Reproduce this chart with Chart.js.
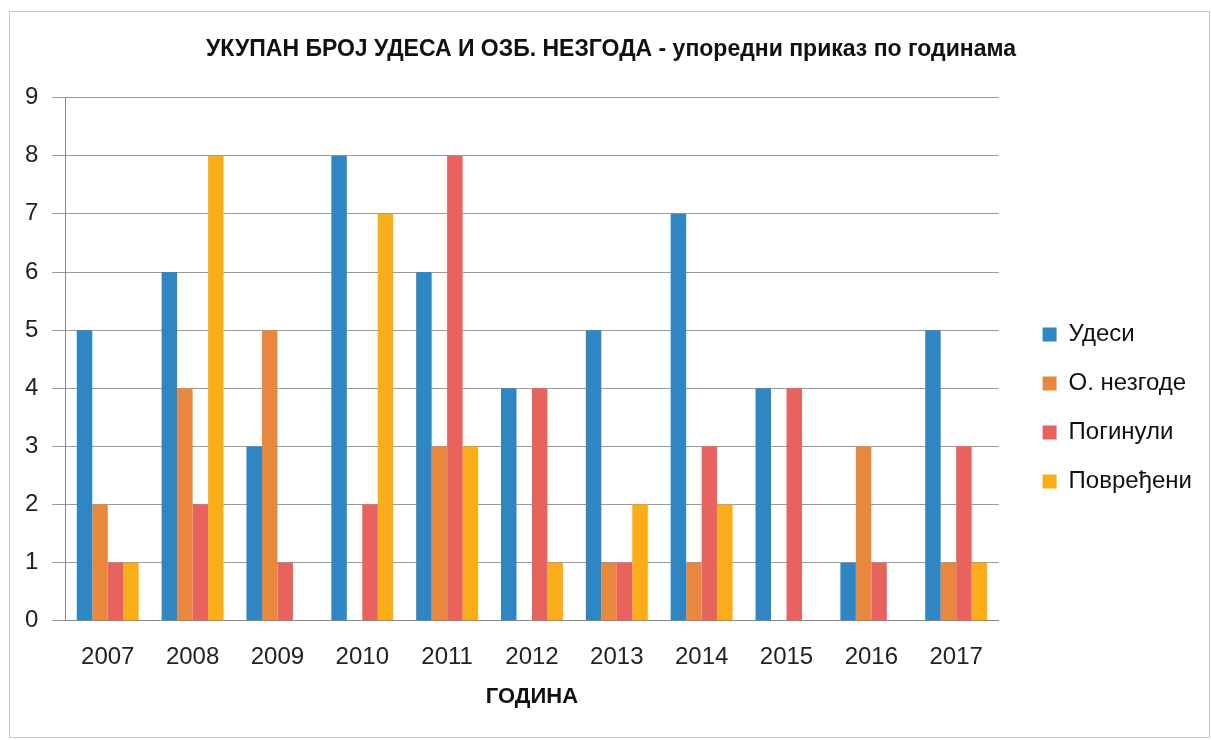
<!DOCTYPE html>
<html>
<head>
<meta charset="utf-8">
<script src="https://cdn.jsdelivr.net/npm/chart.js@4"></script>
<style>
  html, body { margin: 0; padding: 0; background: #fff; }
  #wrap { width: 1211px; height: 740px; }
</style>
</head>
<body>
<div id="wrap"><canvas id="myChart" width="1211" height="740"></canvas></div>
<script>
// data
var years = ["2007", "2008", "2009", "2010", "2011", "2012", "2013", "2014", "2015", "2016", "2017"];
var udesi      = [5, 6, 3, 8, 6, 4, 5, 7, 4, 1, 5];
var nezgode    = [2, 4, 5, 0, 3, 0, 1, 1, 0, 3, 1];
var poginuli   = [1, 2, 1, 2, 8, 4, 1, 3, 4, 1, 3];
var povredjeni = [1, 8, 0, 7, 3, 1, 2, 2, 0, 0, 1];
var yTicks = [0, 1, 2, 3, 4, 5, 6, 7, 8, 9];

var font = "'Liberation Sans', Arial, sans-serif";
Chart.defaults.font.family = font;
Chart.defaults.color = "#222";

// leave a gap between plot and legend, and drop the legend a bit
var LEGEND_EXTRA = 28;
var LEGEND_SHIFT = 19;
var LEGEND_DROP = 38;
var legendGap = {
  id: "legendGap",
  afterInit: function (chart) {
    var lg = chart.legend;
    var fit = lg.fit.bind(lg);
    lg.fit = function () { fit(); this.width += LEGEND_EXTRA; };
  },
  afterLayout: function (chart) {
    var lg = chart.legend;
    lg.left += LEGEND_SHIFT;
    lg.right += LEGEND_SHIFT;
    lg.top += LEGEND_DROP;
    lg.bottom += LEGEND_DROP;
  }
};

// thin frame round the chart
var frame = {
  id: "frame",
  beforeDraw: function (chart) {
    var c = chart.ctx;
    c.save();
    c.strokeStyle = "#c8c8c8";
    c.lineWidth = 1;
    c.strokeRect(9.5, 11.5, 1200, 726);
    c.restore();
  }
};

var ctx = document.getElementById("myChart");

var data = {
  labels: years,
  datasets: [
    { label: "Удеси", data: udesi, backgroundColor: "#2f86c3" },
    { label: "О. незгоде", data: nezgode, backgroundColor: "#e8873e" },
    { label: "Погинули", data: poginuli, backgroundColor: "#e8625e" },
    { label: "Повређени", data: povredjeni, backgroundColor: "#f9ae19" }
  ]
};

var myBarChart = new Chart(ctx, {
  type: "bar",
  data: data,
  plugins: [legendGap, frame],
  options: {
    responsive: false,
    animation: false,
    layout: { padding: { left: 11, right: 0, top: 30, bottom: 30 } },
    datasets: { bar: { categoryPercentage: 0.73, barPercentage: 1 } },
    plugins: {
      title: {
        display: true,
        text: "УКУПАН БРОЈ УДЕСА И ОЗБ. НЕЗГОДА - упоредни приказ по годинама",
        font: { size: 23, weight: "bold" },
        color: "#111",
        padding: { top: 6, bottom: 34 }
      },
      legend: {
        position: "right",
        labels: {
          boxWidth: 14,
          boxHeight: 14,
          padding: 25,
          font: { size: 24 },
          color: "#111"
        }
      },
      tooltip: { enabled: false }
    },
    scales: {
      x: {
        grid: { display: false },
        border: { color: "#888" },
        ticks: { font: { size: 24 }, color: "#222", padding: 14 },
        title: {
          display: true,
          text: "ГОДИНА",
          font: { size: 22, weight: "bold" },
          color: "#111",
          padding: { top: -2, bottom: 0 }
        }
      },
      y: {
        min: 0,
        max: 9,
        afterBuildTicks: function (axis) {
          axis.ticks = yTicks.map(function (v) { return { value: v }; });
        },
        grid: { color: "#9a9a9a", tickLength: 13 },
        border: { color: "#888" },
        ticks: { font: { size: 24 }, color: "#222", padding: 14 }
      }
    }
  }
});
</script>
</body>
</html>
